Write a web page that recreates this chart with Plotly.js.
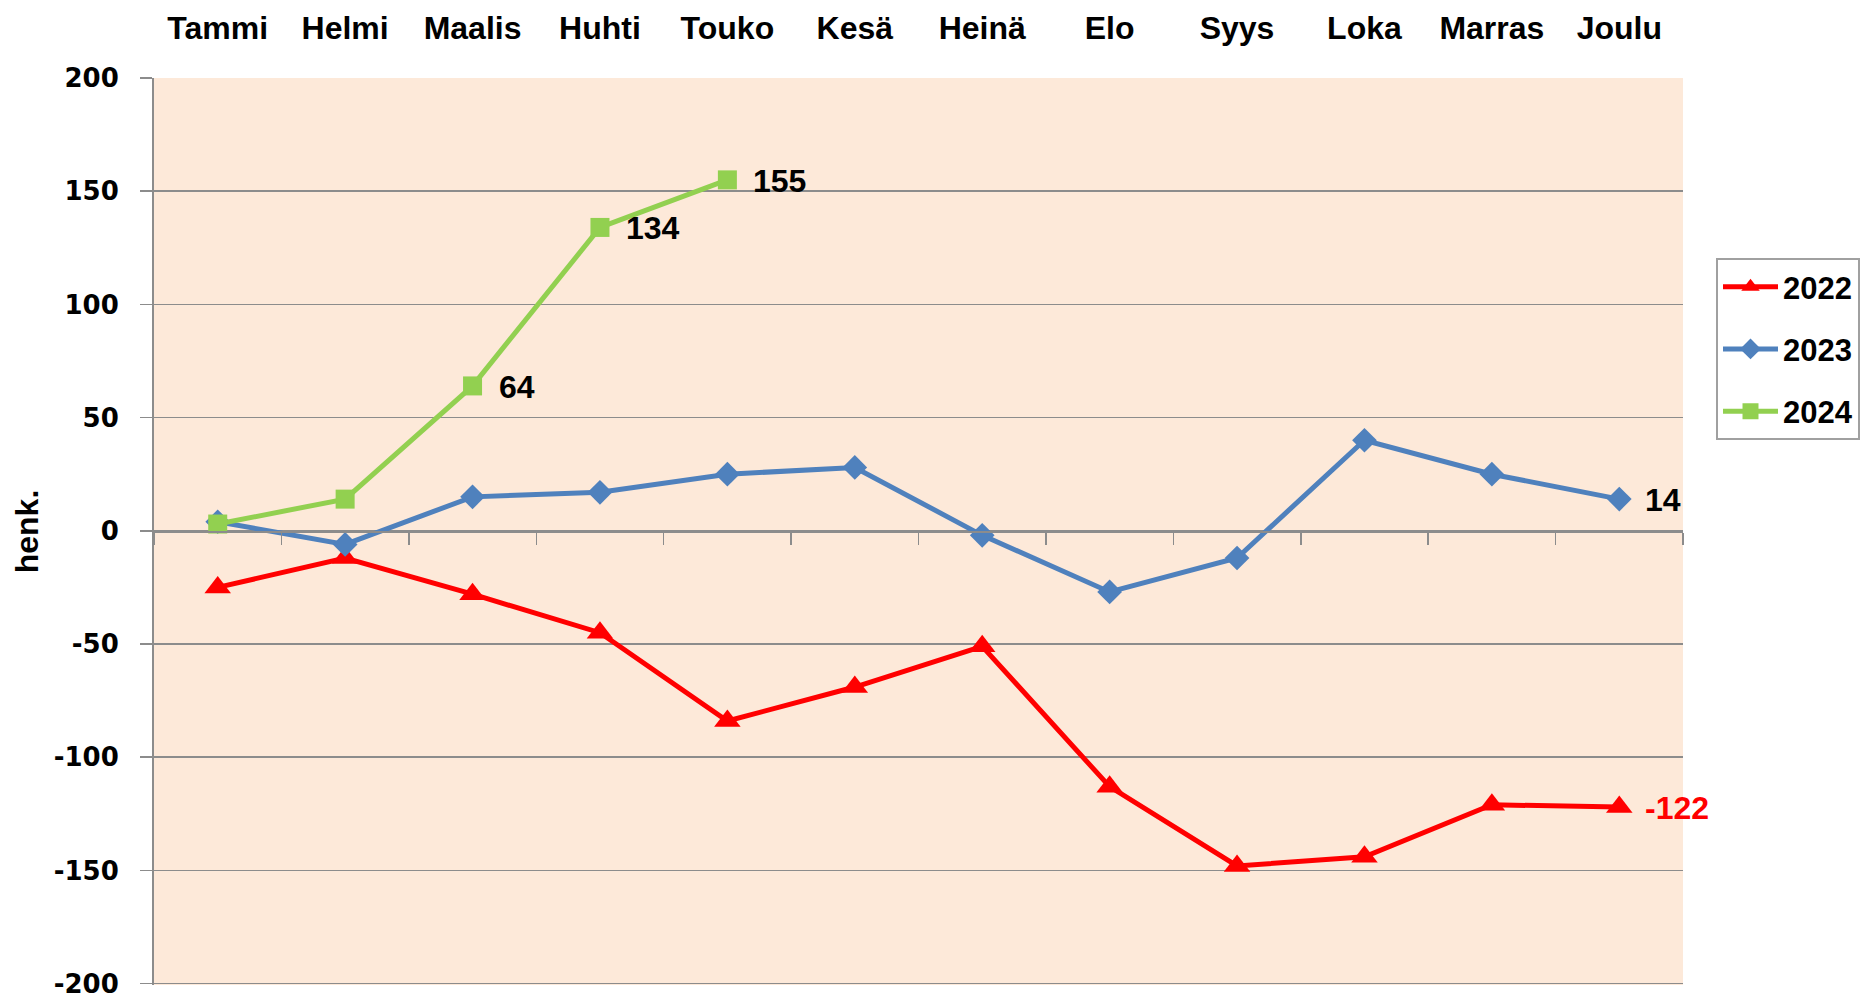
<!DOCTYPE html>
<html>
<head>
<meta charset="utf-8">
<script src="https://cdn.plot.ly/plotly-3.0.1.min.js"></script>
<style>html,body{margin:0;padding:0;background:#fff;}#chart{width:1863px;height:1000px;}</style>
</head>
<body>
<div id="chart"></div>
<script>
const months = ["Tammi","Helmi","Maalis","Huhti","Touko","Kesä","Heinä","Elo","Syys","Loka","Marras","Joulu"];
const values2022 = [-25,-12,-28,-45,-84,-69,-51,-113,-148,-144,-121,-122];
const values2023 = [4,-6,15,17,25,28,-2,-27,-12,40,25,14];
const values2024 = [3,14,64,134,155];
const labels2022 = ["","","","","","","","","","","","-122"];
const labels2023 = ["","","","","","","","","","","","14"];
const labels2024 = ["","","64","134","155"];
const yTicks = [-200,-150,-100,-50,0,50,100,150,200];

const FAM = "Liberation Sans, Arial, sans-serif";

const series = [
  {name:"2022", y:values2022, labels:labels2022, color:"#FF0000", textColor:"#FF0000", symbol:"triangle-up", size:23},
  {name:"2023", y:values2023, labels:labels2023, color:"#4F81BD", textColor:"#000000", symbol:"diamond", size:19},
  {name:"2024", y:values2024, labels:labels2024, color:"#92D050", textColor:"#000000", symbol:"square", size:19}
];

const traces = series.map((s, i) => ({
  name:s.name, x:months.slice(0, s.y.length), y:s.y, mode:"lines+markers", type:"scatter",
  line:{color:s.color, width:5}, marker:{symbol:s.symbol, size:s.size, color:s.color},
  legendgroup:"g" + i, cliponaxis:false
}));
traces.push({x:[], y:[], xaxis:"x2", showlegend:false, hoverinfo:"skip", mode:"lines"});

const annotations = [];
series.forEach(s => {
  s.labels.forEach((t, j) => {
    if (t) annotations.push({
      x:months[j], y:s.y[j], xref:"x", yref:"y", text:t, showarrow:false,
      xanchor:"left", yanchor:"middle", xshift:24, yshift:-1,
      font:{family:FAM, size:32, color:s.textColor, weight:"bold"}
    });
  });
});

const layout = {
  width:1863, height:1000,
  margin:{l:154, r:180, t:78, b:15},
  paper_bgcolor:"#FFFFFF",
  plot_bgcolor:"#FDE9D9",
  showlegend:true,
  annotations:annotations,
  legend:{
    xref:"container", yref:"container", x:1716/1863, y:1-258/1000, xanchor:"left", yanchor:"top",
    bgcolor:"#FFFFFF", bordercolor:"#A0A0A0", borderwidth:2,
    font:{family:FAM, size:31, color:"#000", weight:"bold"},
    traceorder:"grouped", tracegroupgap:19, itemwidth:55
  },
  xaxis:{
    type:"category", categoryarray:months, range:[-0.5, 11.5],
    side:"top", showgrid:false, zeroline:false, showline:false, ticks:"",
    tickfont:{family:FAM, size:32, color:"#000", weight:"bold"}, ticklabelstandoff:32
  },
  xaxis2:{
    overlaying:"x", anchor:"free", position:0.5, type:"linear", range:[-0.5, 11.5],
    tick0:-0.5, dtick:1, ticks:"outside", ticklen:12, tickwidth:1.5, tickcolor:"#8C8C8C",
    showline:true, linecolor:"#8C8C8C", linewidth:2, showgrid:false, zeroline:false,
    showticklabels:false
  },
  yaxis:{
    range:[-200.6, 200], tickvals:yTicks, ticktext:yTicks.map(String),
    showgrid:true, gridcolor:"#8C8C8C", gridwidth:1.5,
    zeroline:false, showline:true, linecolor:"#8C8C8C", linewidth:2,
    ticks:"outside", ticklen:12, tickwidth:1.5, tickcolor:"#8C8C8C",
    tickfont:{family:"DejaVu Sans, sans-serif", size:26, color:"#000", weight:"bold"},
    ticklabelstandoff:16, ticklabeloverflow:"allow",
    title:{text:"henk.", font:{family:FAM, size:32, color:"#000", weight:"bold"}, standoff:6}
  }
};

Plotly.newPlot("chart", traces, layout, {displayModeBar:false, staticPlot:true});
</script>
</body>
</html>
